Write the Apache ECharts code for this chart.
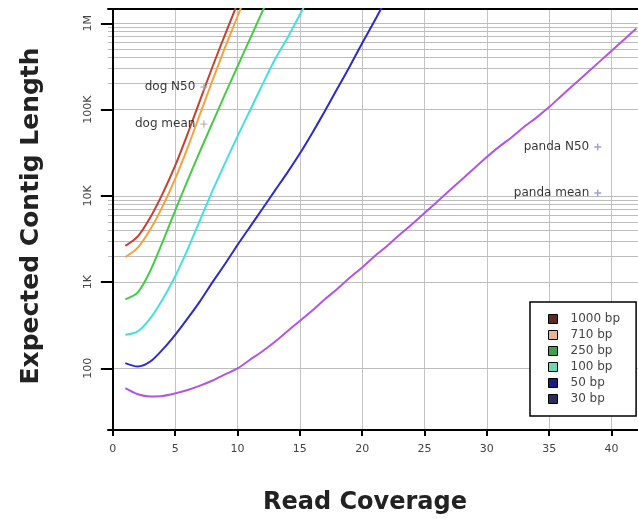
<!DOCTYPE html>
<html>
<head>
<meta charset="utf-8">
<script src="https://cdn.jsdelivr.net/npm/echarts@6/dist/echarts.min.js"></script>
<style>
  html, body { margin: 0; padding: 0; background: #fff; }
  #chart { width: 638px; height: 519px; }
</style>
</head>
<body>
<div id="chart"></div>
<script>
// Read coverage (x) at which each curve is sampled
const coverage = [1, 2, 3, 4, 5, 6, 7, 8, 9, 10, 11, 12, 13, 14, 15, 16, 17, 18, 19, 20,
  21, 22, 23, 24, 25, 26, 27, 28, 29, 30, 31, 32, 33, 34, 35, 36, 37, 38, 39, 40, 41, 42];

// Expected contig length (bp) per read length
const len1000 = [2630, 3390, 5620, 10700, 22400, 52500, 129000, 316000, 741000, 1700000];
const len710 = [1950, 2510, 4070, 7590, 15800, 36300, 89100, 219000, 525000, 1200000, 2820000];
const len250 = [631, 759, 1350, 2950, 6760, 15100, 33100, 70800, 151000, 316000, 661000, 1380000, 2880000];
const len100 = [245, 269, 380, 631, 1170, 2400, 5250, 11500, 24000, 49000, 97700, 195000, 380000, 676000, 1260000, 2340000];
const len50 = [115, 105, 120, 166, 245, 380, 603, 1000, 1620, 2690, 4370, 7080, 11500, 18600, 30900,
  53700, 95500, 174000, 316000, 589000, 1070000, 2000000];
const len30 = [58.9, 50.1, 47.3, 47.9, 51.3, 56.2, 63.1, 72.4, 85.1, 100, 126, 158, 204, 269, 355, 468,
  631, 832, 1120, 1480, 2000, 2630, 3550, 4680, 6310, 8510, 11500, 15500, 20900, 28200, 37200,
  47900, 63100, 81300, 107000, 145000, 195000, 263000, 355000, 479000, 646000, 871000];

const seriesNames = ['1000 bp', '710 bp', '250 bp', '100 bp', '50 bp', '30 bp'];
const seriesValues = [len1000, len710, len250, len100, len50, len30];
const lineColors = ['#c8402c', '#f5a23a', '#44cc44', '#44e0e0', '#2b2bd0', '#b055e6'];
const legendColors = ['#5b2b25', '#e8b496', '#3f9f4f', '#6fd6b2', '#1b1b80', '#2c2c58'];

// Published assemblies
const assemblyNames = ['dog N50', 'dog mean', 'panda N50', 'panda mean'];
const assemblyCoverage = [7.3, 7.3, 38.9, 38.9];
const assemblyLength = [183000, 67900, 36800, 10800];
const assemblyColors = ['#a8a8a8', '#a8a8a8', '#8484dc', '#8484dc'];

// Axis ticks and reference lines
const xTicks = [0, 5, 10, 15, 20, 25, 30, 35, 40];
const yTicks = [100, 1000, 10000, 100000, 1000000];
const yTickLabels = ['100', '1K', '10K', '100K', '1M'];
const refLines = [2000, 3000, 4000, 5000, 6000, 7000, 8000, 9000,
  200000, 300000, 400000, 500000, 600000, 700000, 800000, 900000];

const xMin = -0.39, xMax = 42.13;
const yMin = 19.3, yMax = 1466000;

const chart = echarts.init(document.getElementById('chart'), null, { renderer: 'canvas' });

const lineSeries = seriesNames.map((name, k) => ({
  type: 'line',
  name: name,
  data: seriesValues[k].map((v, i) => [coverage[i], v]),
  showSymbol: false,
  symbol: 'none',
  smooth: 0.3,
  clip: true,
  z: 3,
  lineStyle: { width: 2, color: lineColors[k] },
  itemStyle: { color: lineColors[k] }
}));

const option = {
  backgroundColor: '#fff',
  animation: false,
  grid: { left: 108, right: -10, top: 9, bottom: 89 },
  xAxis: [{
    type: 'value',
    min: xMin,
    max: xMax,
    axisLine: { show: true, onZero: false, lineStyle: { color: '#000', width: 2 } },
    axisTick: { show: true, customValues: xTicks, length: 6, lineStyle: { color: '#000', width: 2 } },
    axisLabel: { customValues: xTicks, margin: 14, fontSize: 11, color: '#444', fontFamily: 'DejaVu Sans' },
    splitLine: { show: true, lineStyle: { color: '#c4c4c4', width: 1 } }
  }, {
    type: 'value',
    position: 'top',
    min: xMin,
    max: xMax,
    axisLine: { show: true, onZero: false, lineStyle: { color: '#000', width: 2 } },
    axisTick: { show: false },
    axisLabel: { show: false },
    splitLine: { show: false }
  }],
  yAxis: [{
    type: 'log',
    logBase: 10,
    min: yMin,
    max: yMax,
    z: 2,
    axisLine: { show: true, lineStyle: { color: '#000', width: 2 } },
    axisTick: { show: true, customValues: yTicks, length: 12, lineStyle: { color: '#000', width: 2 } },
    minorTick: { show: false },
    axisLabel: {
      rotate: 90,
      margin: 14,
      fontSize: 11,
      color: '#444',
      fontFamily: 'DejaVu Sans',
      formatter: function (v) {
        const i = yTicks.findIndex(t => Math.abs(t - v) / t < 1e-6);
        return i >= 0 ? yTickLabels[i] : '';
      }
    },
    splitLine: { show: true, lineStyle: { color: '#bdbdbd', width: 1 } }
  }, {
    // finer horizontal rules within two decades
    type: 'log',
    logBase: 10,
    min: yMin,
    max: yMax,
    position: 'left',
    z: 1,
    axisLine: { show: false },
    axisTick: { show: false, customValues: refLines },
    axisLabel: { show: false },
    splitLine: { show: true, lineStyle: { color: '#bdbdbd', width: 1 } }
  }],
  legend: {
    orient: 'vertical',
    left: 530,
    top: 302,
    padding: [11, 16, 11, 18],
    itemWidth: 9,
    itemHeight: 9,
    itemGap: 4,
    icon: 'rect',
    selectedMode: false,
    borderColor: '#000',
    borderWidth: 1.5,
    backgroundColor: '#fff',
    textStyle: { fontSize: 12, color: '#444', fontFamily: 'DejaVu Sans', lineHeight: 12, padding: [0, 0, 0, 8] },
    data: seriesNames.map((n, k) => ({
      name: n,
      itemStyle: { color: legendColors[k], borderColor: '#000', borderWidth: 1 }
    }))
  },
  series: lineSeries.concat([{
    type: 'scatter',
    name: 'assemblies',
    silent: true,
    z: 5,
    symbol: 'path://M-1,-5H1V-1H5V1H1V5H-1V1H-5V-1H-1Z',
    symbolSize: 7,
    data: assemblyNames.map((n, i) => ({
      name: n,
      value: [assemblyCoverage[i], assemblyLength[i]],
      itemStyle: { color: assemblyColors[i] }
    })),
    label: {
      show: true,
      position: 'left',
      distance: 5,
      formatter: '{b}',
      color: '#000',
      fontSize: 12,
      fontFamily: 'DejaVu Sans'
    }
  }]),
  graphic: [{
    type: 'text',
    x: 365,
    y: 503,
    style: { text: 'Read Coverage', fill: '#222', font: 'bold 24px "DejaVu Sans"', align: 'center', verticalAlign: 'middle' }
  }, {
    type: 'text',
    x: 31,
    y: 216,
    rotation: Math.PI / 2,
    style: { text: 'Expected Contig Length', fill: '#222', font: 'bold 25px "DejaVu Sans"', align: 'center', verticalAlign: 'middle' }
  }]
};

chart.setOption(option);
</script>
</body>
</html>
